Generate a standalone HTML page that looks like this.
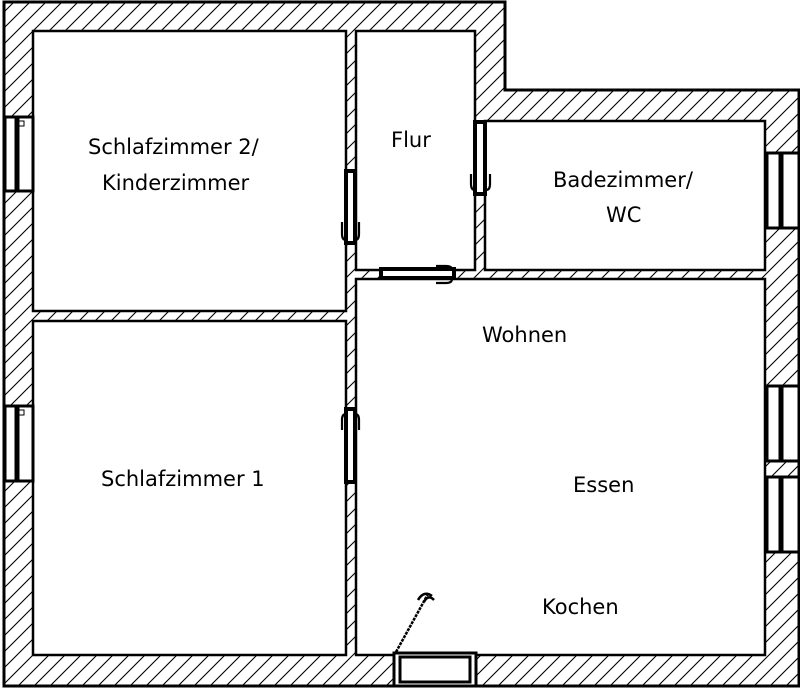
<!DOCTYPE html>
<html><head><meta charset="utf-8"><style>
html,body{margin:0;padding:0;background:#fff;width:800px;height:689px;overflow:hidden}
text{font-family:"DejaVu Sans","Liberation Sans",sans-serif;font-size:21px;fill:#000}
</style></head><body>
<svg width="800" height="689" viewBox="0 0 800 689" xmlns="http://www.w3.org/2000/svg">
<defs>
<pattern id="h" patternUnits="userSpaceOnUse" width="16" height="16">
<path d="M-2,2 L2,-2 M0,16 L16,0 M14,18 L18,14" stroke="#000" stroke-width="1.1"/>
</pattern>
</defs>
<polygon points="4,2 505,2 505,90 799,90 799,686 4,686" fill="url(#h)" stroke="#000" stroke-width="3"/>
<g fill="#fff" stroke="#000" stroke-width="2.5">
<rect x="33" y="31" width="313" height="280"/>
<rect x="33" y="321" width="313" height="334"/>
<rect x="356" y="31" width="119" height="239"/>
<rect x="485" y="121" width="280" height="149"/>
<rect x="356" y="279" width="409" height="376"/>
</g>
<g stroke="#000" fill="#fff">
<g stroke-width="3">
<rect x="5" y="117" width="28" height="74"/>
<rect x="5" y="406" width="28" height="75"/>
<rect x="767" y="153" width="32" height="75"/>
<rect x="767" y="386" width="32" height="75"/>
<rect x="767" y="477" width="32" height="75"/>
<rect x="394" y="653" width="82" height="33"/>
</g>
<g stroke-width="1">
<rect x="15" y="119" width="4" height="70" fill="#000"/>
<rect x="15" y="408" width="4" height="71" fill="#000"/>
<rect x="779" y="155" width="4" height="71" fill="#000"/>
<rect x="779" y="388" width="4" height="71" fill="#000"/>
<rect x="779" y="479" width="4" height="71" fill="#000"/>
<rect x="19" y="121" width="5" height="5"/>
<rect x="19" y="410" width="5" height="5"/>
<rect x="400" y="657" width="70" height="25" stroke-width="3"/>
</g>
</g>
<g stroke="#000" fill="#fff" stroke-width="4">
<rect x="346" y="171" width="9" height="72"/>
<rect x="475" y="122" width="10" height="72"/>
<rect x="381" y="269" width="73" height="9"/>
<rect x="346" y="409" width="9" height="73"/>
</g>
<g stroke="#000" fill="none" stroke-width="2.2">
<path d="M342,222 v12 q0,6 4,6 M359,222 v12 q0,6 -4,6"/>
<path d="M471,174 v10 q0,6 4,6 M490,174 v10 q0,6 -4,6"/>
<path d="M436,266 h10 q6,0 6,4 M436,283 h10 q6,0 6,-4"/>
<path d="M342,430 v-10 q0,-6 4,-6 M359,430 v-10 q0,-6 -4,-6"/>
<path d="M396,652 L428,594" stroke-width="2.5" stroke-dasharray="3,1"/>
<path d="M418,600 q6,-10 14,-4 M424,602 q4,-8 10,-2" stroke-width="2.5"/>
</g>
<text x="88" y="154">Schlafzimmer 2/</text>
<text x="102" y="190">Kinderzimmer</text>
<text x="391" y="147">Flur</text>
<text x="553" y="187">Badezimmer/</text>
<text x="606" y="222">WC</text>
<text x="482" y="342">Wohnen</text>
<text x="101" y="486">Schlafzimmer 1</text>
<text x="573" y="492">Essen</text>
<text x="542" y="614">Kochen</text>
</svg>
</body></html>
